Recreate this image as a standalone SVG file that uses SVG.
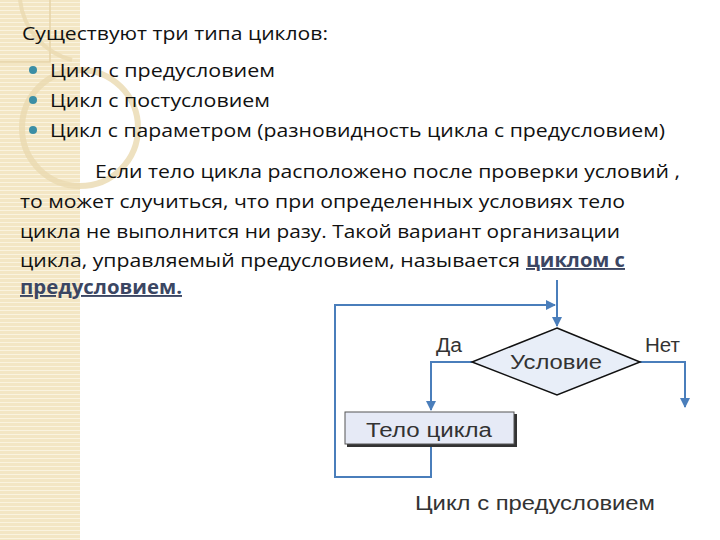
<svg xmlns="http://www.w3.org/2000/svg" width="720" height="540" viewBox="0 0 720 540">
<defs>
<pattern id="stripes" x="0" y="0" width="8" height="4" patternUnits="userSpaceOnUse">
<rect width="8" height="4" fill="#f3e6c4"/>
<rect y="2" width="8" height="1" fill="#faf3df"/>
</pattern>
<marker id="arr" viewBox="0 0 10 10" refX="9" refY="5" markerWidth="5" markerHeight="5" orient="auto" markerUnits="strokeWidth">
<path d="M0,0 L10,5 L0,10 z" fill="#4a7ebb"/>
</marker>
<style>
.t{font-family:"Open Sans","Liberation Sans",sans-serif;font-size:19px;fill:#111}
.b{font-weight:bold;fill:#3b4663;text-decoration:underline}
.d{font-family:"Liberation Sans",Arial,sans-serif;font-size:20px;fill:#333}
.ln{stroke:#4a7ebb;stroke-width:2;fill:none}
.bul{fill:#3b8ea5}
</style>
</defs>
<rect width="720" height="540" fill="#ffffff"/>
<g id="decor">
<rect x="0" y="0" width="80" height="540" fill="url(#stripes)"/>
<path d="M0,62 L50,62 L50,0" fill="none" stroke="#e6d3a8" stroke-width="1.5"/>
<circle cx="80" cy="128" r="58" fill="none" stroke="#ead9b0" stroke-width="6" opacity="0.8"/>
<path d="M20,0 A70,70 0 0 0 72,60" fill="none" stroke="#ead9b0" stroke-width="4" opacity="0.8"/>
</g>
<g id="text">
<text class="t" x="22" y="40" textLength="306" lengthAdjust="spacingAndGlyphs">Существуют три типа циклов:</text>
<circle class="bul" cx="33" cy="70" r="4"/>
<text class="t" x="50" y="77" textLength="225" lengthAdjust="spacingAndGlyphs">Цикл с предусловием</text>
<circle class="bul" cx="33" cy="100" r="4"/>
<text class="t" x="50" y="107" textLength="220" lengthAdjust="spacingAndGlyphs">Цикл с постусловием</text>
<circle class="bul" cx="33" cy="130" r="4"/>
<text class="t" x="50" y="137" textLength="615" lengthAdjust="spacingAndGlyphs">Цикл с параметром (разновидность цикла с предусловием)</text>
<text class="t" x="95" y="178" textLength="585" lengthAdjust="spacingAndGlyphs">Если тело цикла расположено после проверки условий ,</text>
<text class="t" x="20" y="208" textLength="605" lengthAdjust="spacingAndGlyphs">то может случиться, что при определенных условиях тело</text>
<text class="t" x="20" y="238" textLength="600" lengthAdjust="spacingAndGlyphs">цикла не выполнится ни разу. Такой вариант организации</text>
<text class="t" x="20" y="267" textLength="500" lengthAdjust="spacingAndGlyphs">цикла, управляемый предусловием, называется</text>
<text class="t b" x="526" y="267" textLength="99" lengthAdjust="spacingAndGlyphs">циклом с</text>
<text class="t b" x="20" y="294" textLength="162" lengthAdjust="spacingAndGlyphs">предусловием.</text>
</g>
<g id="connectors">
<line class="ln" x1="557" y1="280" x2="557" y2="326" marker-end="url(#arr)"/>
<polyline class="ln" points="335,478 335,305 555,305" marker-end="url(#arr)"/>
<polyline class="ln" points="335,477 431,477 431,447" stroke="#9fb6d6"/>
<polyline class="ln" points="472,362 431,362 431,410" marker-end="url(#arr)"/>
<polyline class="ln" points="640,362 685,362 685,407" marker-end="url(#arr)"/>
</g>
<g id="condition">
<polygon points="557,328 640,362 557,395 472,362" fill="#e8eef8" stroke="#111" stroke-width="1.5"/>
<text class="d" x="510" y="369" textLength="92" lengthAdjust="spacingAndGlyphs">Условие</text>
<text class="d" x="436" y="352" font-size="18" textLength="26" lengthAdjust="spacingAndGlyphs">Да</text>
<text class="d" x="645" y="352" font-size="18" textLength="35" lengthAdjust="spacingAndGlyphs">Нет</text>
</g>
<g id="body">
<rect x="347" y="414" width="170" height="33" fill="#333"/>
<rect x="345" y="412" width="169" height="32" fill="#e6eaf6" stroke="#555" stroke-width="1"/>
<text class="d" x="366" y="437" font-size="21" fill="#111" textLength="126" lengthAdjust="spacingAndGlyphs">Тело цикла</text>
</g>
<g id="caption">
<text class="d" x="415" y="510" textLength="240" lengthAdjust="spacingAndGlyphs">Цикл с предусловием</text>
</g>
</svg>
